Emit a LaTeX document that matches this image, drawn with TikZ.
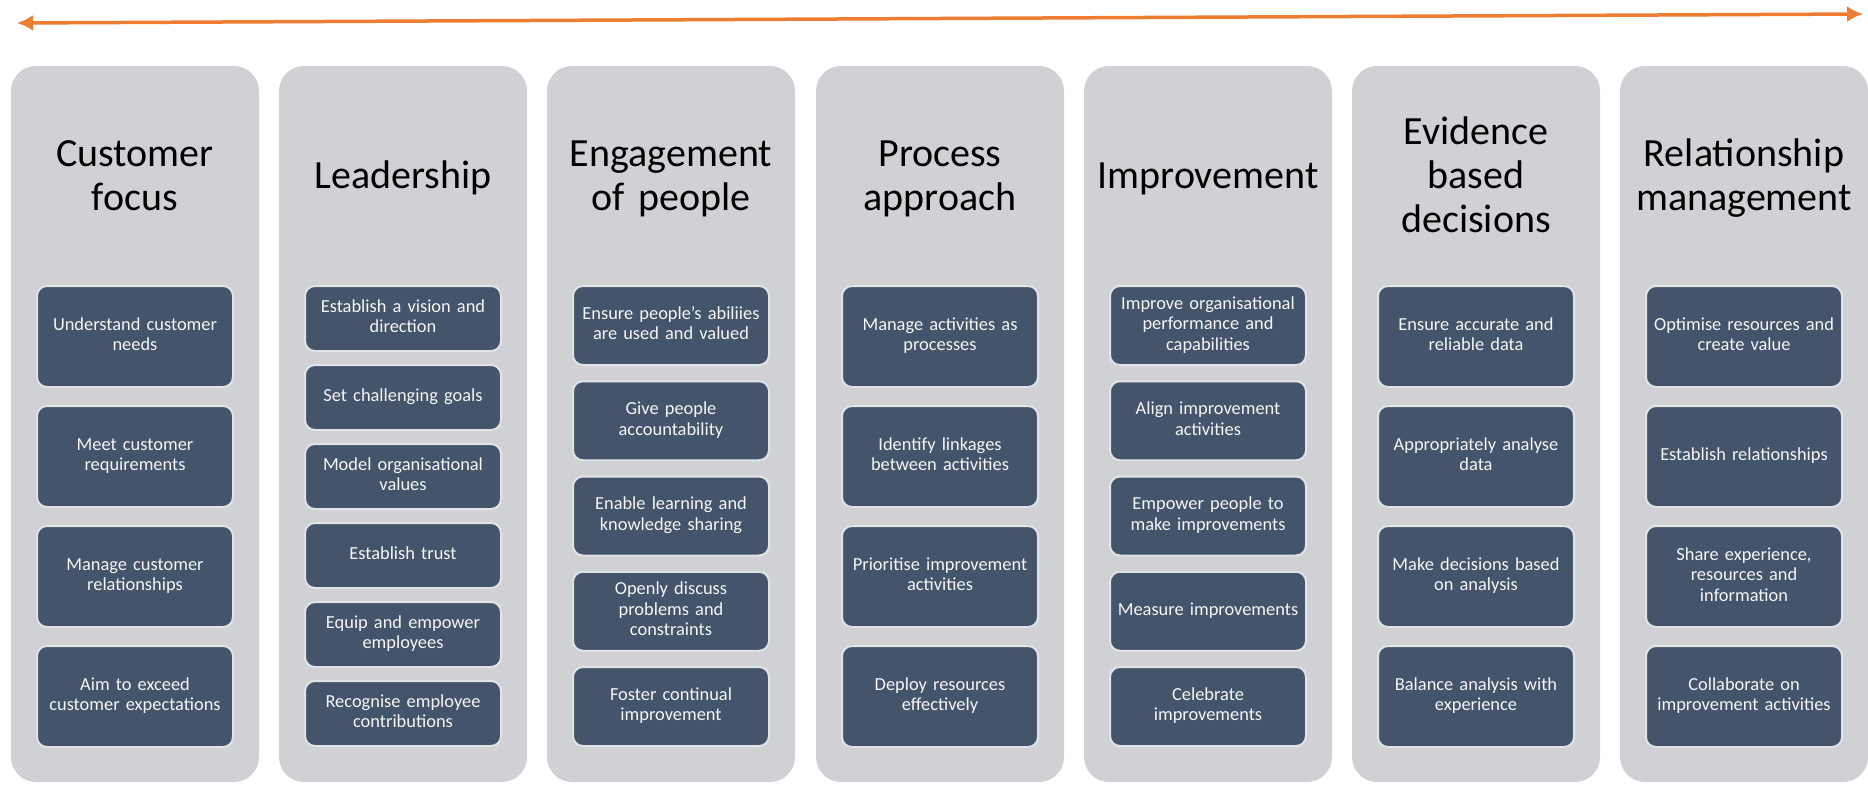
\documentclass[tikz,border=0pt]{standalone}
\usepackage{fontspec}
\setmainfont{Carlito}
\usetikzlibrary{arrows.meta}
\definecolor{pillargray}{HTML}{D0D1D5}
\definecolor{slate}{HTML}{44546A}
\definecolor{rim}{HTML}{E2E3E6}
\definecolor{accent}{HTML}{ED7D31}
\tikzset{
  pillar/.style={fill=pillargray, rounded corners=25pt, minimum width=248pt,
    minimum height=716pt, inner sep=0pt},
  heading/.style={font=\fontsize{40}{44}\selectfont, align=center, text width=246pt,
    execute at begin node=\strut, execute at end node=\strut},
  item/.style={fill=slate, draw=rim, line width=2pt, rounded corners=10pt,
    minimum width=196pt, text width=196pt, align=center, inner sep=0pt,
    text=white!94!slate, font=\fontsize{18.4}{20.5}\selectfont,
    execute at begin node=\strut, execute at end node=\strut},
  itemfour/.style={item, minimum height=101pt},
  itemfive/.style={item, minimum height=79pt},
  itemsix/.style={item, minimum height=65pt},
}
\begin{document}
\begin{tikzpicture}[x=1pt, y=-1pt, >={Latex[length=16pt,width=16pt]}]
\useasboundingbox (0,0) rectangle (1868,795);
% double arrow across the top
\coordinate (left) at (17,23);
\coordinate (right) at (1863,14);
\draw[<->, color=accent, line width=3.5pt] (left) -- (right);
% the seven columns
\node[pillar] (cf) at (135,424) {};
\node[pillar] (ld) at (403,424) {};
\node[pillar] (ep) at (671,424) {};
\node[pillar] (pa) at (940,424) {};
\node[pillar] (im) at (1208,424) {};
\node[pillar] (ed) at (1476,424) {};
\node[pillar] (rm) at (1744,424) {};
% headings
\node[heading] (cft) at (135,179.5) {Customer\\focus};
\node[heading] (ldt) at (403,179.5) {Leadership};
\node[heading] (ept) at (671,179.5) {Engagement\\of people};
\node[heading] (pat) at (940,179.5) {Process\\approach};
\node[heading] (imt) at (1208,179.5) {Improvement};
\node[heading] (edt) at (1476,179.5) {Evidence\\based\\decisions};
\node[heading] (rmt) at (1744,179.5) {Relationship\\management};
% customer focus
\node[itemfour] (cf1) at (135,336.5) {Understand customer\\needs};
\node[itemfour] (cf2) at (135,456.5) {Meet customer\\requirements};
\node[itemfour] (cf3) at (135,576.5) {Manage customer\\relationships};
\node[itemfour] (cf4) at (135,696.5) {Aim to exceed\\customer expectations};
% leadership
\node[itemsix] (ld1) at (403,318.5) {Establish a vision and\\direction};
\node[itemsix] (ld2) at (403,397.5) {Set challenging goals};
\node[itemsix] (ld3) at (403,476.5) {Model organisational\\values};
\node[itemsix] (ld4) at (403,555.5) {Establish trust};
\node[itemsix] (ld5) at (403,634.5) {Equip and empower\\employees};
\node[itemsix] (ld6) at (403,713.5) {Recognise employee\\contributions};
% engagement of people
\node[itemfive] (ep1) at (671,325.5) {Ensure people's abiliies\\are used and valued};
\node[itemfive] (ep2) at (671,420.75) {Give people\\accountability};
\node[itemfive] (ep3) at (671,516) {Enable learning and\\knowledge sharing};
\node[itemfive] (ep4) at (671,611.25) {Openly discuss\\problems and\\constraints};
\node[itemfive] (ep5) at (671,706.5) {Foster continual\\improvement};
% process approach
\node[itemfour] (pa1) at (940,336.5) {Manage activities as\\processes};
\node[itemfour] (pa2) at (940,456.5) {Identify linkages\\between activities};
\node[itemfour] (pa3) at (940,576.5) {Prioritise improvement\\activities};
\node[itemfour] (pa4) at (940,696.5) {Deploy resources\\effectively};
% improvement
\node[itemfive] (im1) at (1208,325.5) {Improve organisational\\performance and\\capabilities};
\node[itemfive] (im2) at (1208,420.75) {Align improvement\\activities};
\node[itemfive] (im3) at (1208,516) {Empower people to\\make improvements};
\node[itemfive] (im4) at (1208,611.25) {Measure improvements};
\node[itemfive] (im5) at (1208,706.5) {Celebrate\\improvements};
% evidence based decisions
\node[itemfour] (ed1) at (1476,336.5) {Ensure accurate and\\reliable data};
\node[itemfour] (ed2) at (1476,456.5) {Appropriately analyse\\data};
\node[itemfour] (ed3) at (1476,576.5) {Make decisions based\\on analysis};
\node[itemfour] (ed4) at (1476,696.5) {Balance analysis with\\experience};
% relationship management
\node[itemfour] (rm1) at (1744,336.5) {Optimise resources and\\create value};
\node[itemfour] (rm2) at (1744,456.5) {Establish relationships};
\node[itemfour] (rm3) at (1744,576.5) {Share experience,\\resources and\\information};
\node[itemfour] (rm4) at (1744,696.5) {Collaborate on\\improvement activities};
\end{tikzpicture}
\end{document}
